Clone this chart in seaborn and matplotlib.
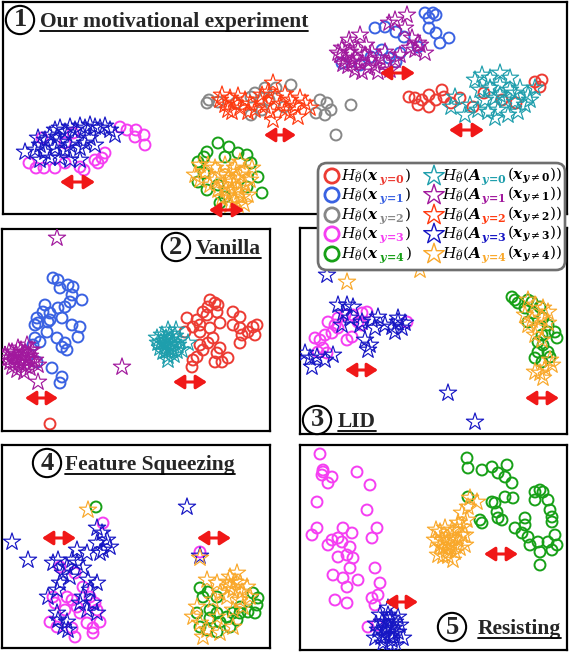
import matplotlib

matplotlib.use("Agg")

import matplotlib.pyplot as plt
import numpy as np
import pandas as pd
import seaborn as sns
from matplotlib.lines import Line2D
from matplotlib.patches import FancyBboxPatch

W, H = 570, 652

# ---- point positions (pixel coords, y down) ----
# panel 1: motivational experiment
P1_X1 = [(425, 13), (433, 13), (429, 18), (436, 15), (375, 28), (385, 27), (396, 32), (404, 37), (429, 28),
         (436, 33), (449, 38), (440, 43), (418, 47), (400, 53), (389, 58), (382, 50), (396, 62), (371, 57),
         (342, 63), (360, 65)]
P1_A1 = [(407, 15), (389, 23), (360, 35), (349, 40), (418, 43), (425, 53), (415, 50), (338, 53), (395, 20),
         (405, 28), (412, 38), (340, 55), (345, 60), (350, 52), (355, 58), (360, 63), (365, 55), (370, 60),
         (375, 66), (348, 66), (355, 70), (362, 72), (368, 68), (380, 58), (385, 63), (390, 70), (343, 64),
         (352, 62), (358, 50), (372, 52), (378, 72), (385, 52), (395, 60), (400, 55), (410, 48), (420, 45),
         (342, 48), (366, 45), (350, 45)]
P1_X2 = [(209, 100), (207, 103), (218, 102), (251, 97), (255, 93), (265, 88), (276, 88), (291, 85), (269, 100),
         (320, 100), (327, 103), (331, 110), (325, 115), (316, 113), (351, 105), (336, 135), (236, 103),
         (251, 115), (262, 110), (284, 107)]
P1_A2 = [(220, 100), (225, 105), (230, 98), (235, 103), (240, 108), (245, 100), (250, 104), (228, 110),
         (238, 96), (255, 110), (260, 100), (265, 106), (270, 112), (275, 98), (280, 104), (285, 110), (290, 100),
         (295, 106), (300, 98), (305, 103), (310, 108), (285, 94), (262, 95), (273, 83), (273, 120), (298, 117),
         (248, 112), (232, 112), (268, 92), (290, 113), (222, 95)]
P1_X0 = [(409, 97), (415, 98), (422, 100), (418, 105), (429, 107), (436, 100), (444, 97), (442, 90), (429, 95),
         (460, 98), (451, 103), (473, 107), (484, 93), (535, 82), (542, 80), (540, 87), (516, 103), (502, 100)]
P1_A0 = [(455, 97), (451, 107), (475, 80), (482, 75), (490, 78), (500, 73), (510, 78), (480, 90), (490, 88),
         (500, 85), (510, 90), (520, 88), (528, 95), (485, 100), (495, 98), (505, 100), (515, 102), (525, 105),
         (478, 110), (488, 112), (498, 110), (508, 115), (518, 112), (530, 100), (495, 118), (470, 105),
         (465, 115), (535, 88), (500, 95), (515, 93)]
P1_X3 = [(120, 127), (127, 130), (136, 130), (144, 135), (145, 145), (135, 137), (105, 153), (102, 158),
         (98, 163), (29, 163), (36, 168), (44, 168), (55, 168), (65, 163), (80, 167), (84, 170), (95, 160),
         (42, 138), (73, 133), (65, 143)]
P1_A3 = [(25, 152), (35, 150), (40, 145), (45, 140), (50, 135), (55, 130), (60, 128), (65, 132), (70, 127),
         (75, 130), (80, 126), (85, 128), (90, 125), (95, 127), (100, 128), (105, 126), (110, 130), (45, 152),
         (55, 148), (60, 142), (65, 150), (70, 145), (75, 140), (80, 148), (85, 143), (90, 138), (50, 158),
         (60, 158), (70, 160), (80, 160), (40, 160), (95, 145), (115, 135), (38, 138), (57, 137)]
P1_X4 = [(218, 143), (229, 147), (207, 152), (204, 157), (198, 162), (238, 153), (247, 155), (251, 163),
         (225, 157), (204, 173), (198, 182), (207, 190), (218, 185), (225, 197), (220, 203), (258, 177),
         (262, 193), (247, 187)]
P1_A4 = [(195, 175), (200, 180), (205, 172), (210, 185), (215, 168), (220, 175), (225, 165), (230, 172),
         (235, 168), (240, 175), (245, 170), (218, 190), (225, 185), (232, 182), (238, 188), (245, 185),
         (250, 180), (222, 198), (228, 195), (235, 200), (242, 197), (248, 195), (230, 205), (238, 205),
         (215, 180), (228, 178), (240, 162), (208, 165), (252, 168), (200, 165), (232, 190), (240, 192),
         (226, 190), (236, 178), (244, 204)]
P1_ARROWS = [(380, 415, 73), (264, 296, 135), (449, 484, 130), (60, 95, 182), (209, 244, 210)]

# panel 2: vanilla
P2_X1 = [(53, 278), (58, 280), (60, 288), (68, 285), (73, 287), (72, 295), (82, 300), (70, 302), (65, 307),
         (58, 308), (45, 305), (43, 312), (50, 313), (48, 322), (37, 318), (38, 323), (35, 325), (62, 318),
         (72, 325), (80, 327), (47, 332), (78, 337), (57, 338), (65, 343), (62, 347), (67, 350), (35, 338),
         (33, 345), (37, 362), (52, 368), (62, 377), (60, 383), (40, 342), (50, 320)]
P2_X0 = [(210, 300), (215, 303), (218, 305), (208, 307), (203, 312), (207, 315), (217, 312), (187, 318),
         (197, 320), (200, 325), (193, 327), (185, 332), (200, 332), (210, 328), (220, 323), (233, 312),
         (240, 317), (233, 325), (240, 328), (248, 332), (253, 327), (257, 325), (255, 335), (242, 335),
         (240, 343), (213, 338), (208, 343), (220, 348), (217, 353), (203, 350), (197, 357), (193, 360),
         (192, 367), (215, 362), (222, 362), (228, 358), (200, 345), (50, 424)]
P2_A0 = [(158, 343), (162, 335), (165, 345), (168, 330), (170, 340), (172, 350), (175, 336), (178, 345),
         (163, 352), (168, 356), (174, 355), (160, 348), (180, 340), (166, 338), (171, 345), (176, 330),
         (188, 343), (157, 338), (182, 350), (168, 360), (164, 341), (169, 349), (173, 342), (167, 344),
         (161, 342), (177, 351), (170, 334), (166, 351)]
P2_A1 = [(8, 358), (12, 352), (15, 362), (18, 348), (20, 358), (22, 365), (25, 352), (28, 360), (30, 368),
         (12, 367), (5, 355), (32, 350), (35, 360), (24, 372), (17, 370), (38, 365), (27, 345), (10, 362),
         (22, 355), (30, 356), (57, 238), (122, 367), (38, 382), (30, 350), (14, 357), (19, 363), (24, 359),
         (9, 352), (26, 366), (16, 354), (21, 350), (33, 362)]
P2_ARROWS = [(25, 58, 398), (173, 207, 382)]

# panel 3: LID
P3_X3 = [(315, 338), (320, 340), (325, 335), (332, 333), (335, 325), (328, 322), (338, 318), (345, 315),
         (353, 315), (362, 313), (367, 312), (358, 322), (347, 340), (352, 337), (362, 325), (323, 348),
         (327, 353), (318, 352), (338, 328), (407, 322)]
P3_A3 = [(327, 275), (338, 305), (347, 305), (353, 307), (343, 313), (350, 318), (362, 322), (372, 320),
         (378, 317), (385, 325), (392, 327), (398, 322), (405, 323), (402, 328), (395, 332), (375, 328),
         (365, 340), (370, 345), (368, 350), (305, 353), (310, 358), (312, 367), (317, 357), (325, 360),
         (333, 355), (360, 325), (342, 325), (448, 393), (475, 422), (398, 318)]
P3_X4 = [(512, 297), (515, 300), (518, 303), (528, 300), (532, 302), (540, 307), (525, 308), (533, 313),
         (543, 318), (548, 325), (555, 332), (557, 338), (548, 332), (542, 335), (538, 342), (543, 345),
         (538, 352), (548, 352), (550, 357), (535, 358), (542, 362), (528, 322)]
P3_A4 = [(347, 282), (528, 300), (535, 305), (543, 308), (548, 312), (525, 315), (532, 320), (542, 318),
         (548, 323), (538, 328), (528, 325), (535, 335), (542, 340), (552, 365), (545, 368), (540, 373),
         (535, 372), (543, 378), (550, 360), (420, 270)]
P3_ARROWS = [(345, 378, 370), (525, 559, 398)]

# panel 4: feature squeezing
P4_X3 = [(103, 523), (60, 567), (53, 597), (55, 603), (67, 597), (72, 600), (77, 607), (83, 587), (90, 597),
         (95, 603), (97, 610), (100, 622), (50, 622), (57, 627), (72, 628), (75, 637), (93, 633), (93, 628),
         (87, 623), (80, 613), (200, 552), (75, 573), (65, 610)]
P4_A3 = [(12, 542), (28, 560), (97, 528), (102, 533), (107, 540), (110, 547), (103, 550), (97, 543),
         (100, 553), (87, 553), (77, 550), (72, 560), (67, 567), (77, 563), (58, 560), (53, 563), (63, 573),
         (70, 577), (60, 583), (57, 590), (48, 597), (88, 580), (97, 583), (90, 590), (83, 597), (93, 603),
         (97, 613), (87, 610), (80, 603), (57, 613), (58, 620), (63, 627), (68, 630), (67, 622), (83, 568),
         (187, 507), (200, 556)]
P4_X4 = [(96, 507), (200, 588), (208, 592), (203, 597), (217, 597), (253, 593), (258, 598), (257, 605),
         (255, 613), (248, 612), (240, 607), (233, 613), (227, 617), (217, 613), (210, 610), (200, 627),
         (207, 630), (217, 632), (230, 627), (237, 620), (240, 613), (197, 613), (210, 618), (220, 622)]
P4_A4 = [(88, 510), (200, 558), (207, 580), (217, 583), (230, 577), (237, 573), (240, 583), (247, 587),
         (233, 590), (227, 597), (240, 600), (250, 597), (243, 607), (233, 610), (230, 587), (220, 593),
         (213, 600), (193, 617), (200, 623), (207, 630), (203, 637), (220, 633), (233, 627), (197, 607),
         (217, 617), (235, 582), (242, 592), (228, 582)]
P4_ARROWS = [(42, 76, 538), (197, 231, 538)]

# panel 5: resisting
P5_X3 = [(320, 454), (323, 470), (322, 475), (332, 477), (328, 483), (357, 472), (370, 485), (317, 502),
         (367, 510), (317, 528), (312, 535), (377, 528), (372, 538), (343, 528), (352, 533), (338, 538),
         (332, 540), (328, 545), (342, 542), (350, 547), (338, 557), (347, 555), (353, 558), (350, 568),
         (375, 568), (333, 575), (343, 578), (347, 587), (358, 580), (380, 583), (378, 595), (372, 598),
         (375, 605), (335, 600), (347, 603), (368, 627), (377, 625), (323, 472)]
P5_A3 = [(378, 630), (382, 622), (385, 635), (388, 615), (390, 628), (392, 640), (395, 622), (398, 632),
         (383, 643), (389, 645), (396, 645), (375, 638), (400, 625), (386, 628), (393, 634), (380, 615),
         (403, 638), (388, 608), (376, 624), (398, 617), (384, 630), (390, 636), (387, 622), (394, 628),
         (381, 637), (391, 618)]
P5_X4 = [(467, 458), (468, 468), (482, 470), (492, 467), (498, 473), (507, 465), (505, 477), (512, 483),
         (468, 497), (492, 502), (495, 503), (505, 497), (513, 498), (480, 520), (482, 523), (497, 512),
         (498, 518), (502, 520), (525, 518), (525, 525), (515, 528), (522, 533), (528, 537), (535, 492),
         (540, 490), (543, 492), (535, 500), (548, 500), (550, 510), (552, 517), (552, 522), (555, 535),
         (557, 545), (548, 542), (552, 550), (538, 542), (540, 552), (530, 545), (540, 565)]
P5_A4 = [(435, 540), (440, 532), (443, 548), (446, 538), (450, 545), (452, 530), (455, 552), (458, 540),
         (438, 555), (448, 556), (460, 548), (462, 535), (445, 528), (453, 560), (440, 545), (465, 545),
         (457, 530), (436, 530), (448, 550), (443, 556), (470, 498), (477, 502), (468, 507), (462, 513),
         (467, 520), (463, 527), (465, 535), (458, 523), (447, 543), (452, 538), (442, 540), (455, 546)]
P5_ARROWS = [(484, 518, 554), (385, 418, 602)]

TITLES = ["Our motivational experiment", "Vanilla", "LID", "Feature Squeezing", "Resisting"]

# ---- styling ----
CIRCLE_COLORS = ["#ec3b33", "#3a62e2", "#878787", "#f53ef2", "#17a017"]
STAR_COLORS = ["#1e9eac", "#a1189d", "#ff3a10", "#1616c4", "#f9a82a"]
ARROW_COLOR = "#f01818"

PANELS = [(3, 2, 567, 214), (2, 229, 270, 431), (300, 228, 567, 434), (2, 445, 270, 648), (300, 445, 567, 650)]
# circled number centre, text left x, text baseline, underline y
TITLE_POS = [(20, 19, 40, 27, 31), (176, 246, 196, 254, 258), (317, 419, 338, 427, 431),
             (47, 462, 65, 470, 474), (452, 626, 478, 634, 638)]

SERIES = [
    [("o", 1, P1_X1), ("o", 2, P1_X2), ("o", 0, P1_X0), ("o", 3, P1_X3), ("o", 4, P1_X4),
     ("*", 1, P1_A1), ("*", 2, P1_A2), ("*", 0, P1_A0), ("*", 3, P1_A3), ("*", 4, P1_A4)],
    [("o", 1, P2_X1), ("o", 0, P2_X0), ("*", 0, P2_A0), ("*", 1, P2_A1)],
    [("o", 3, P3_X3), ("o", 4, P3_X4), ("*", 3, P3_A3), ("*", 4, P3_A4)],
    [("o", 3, P4_X3), ("o", 4, P4_X4), ("*", 3, P4_A3), ("*", 4, P4_A4)],
    [("o", 3, P5_X3), ("o", 4, P5_X4), ("*", 3, P5_A3), ("*", 4, P5_A4)],
]
ARROWS = [P1_ARROWS, P2_ARROWS, P3_ARROWS, P4_ARROWS, P5_ARROWS]

sns.set_theme(style="white")
plt.rcParams["mathtext.fontset"] = "dejavuserif"
plt.rcParams["font.family"] = ["DejaVu Sans"]

fig = plt.figure(figsize=(W / 100, H / 100), dpi=100)
fig.patch.set_facecolor("white")
renderer = fig.canvas.get_renderer()


def pixel_axes(box, frame=True):
    x0, y0, x1, y1 = box
    ax = fig.add_axes([x0 / W, 1 - y1 / H, (x1 - x0) / W, (y1 - y0) / H])
    ax.set_xlim(x0, x1)
    ax.set_ylim(y1, y0)
    ax.set_xticks([])
    ax.set_yticks([])
    for sp in ax.spines.values():
        sp.set_visible(frame)
        sp.set_color("black")
        sp.set_linewidth(1.6)
    ax.set_facecolor("white")
    return ax


def draw_points(ax, pts, kind, cls):
    df = pd.DataFrame(pts, columns=["x", "y"])
    if kind == "o":
        c = CIRCLE_COLORS[cls]
        sns.scatterplot(data=df, x="x", y="y", ax=ax, marker="o", s=62, color=c,
                        facecolor="none", edgecolor=c, linewidth=1.4, zorder=2)
    else:
        c = STAR_COLORS[cls]
        sns.scatterplot(data=df, x="x", y="y", ax=ax, marker="*", s=170, color=c,
                        facecolor="none", edgecolor=c, linewidth=0.85, zorder=3)
    ax.set_xlabel("")
    ax.set_ylabel("")


for i, box in enumerate(PANELS):
    ax = pixel_axes(box)
    for kind, cls, pts in SERIES[i]:
        draw_points(ax, pts, kind, cls)
    for xa, xb, ya in ARROWS[i]:
        ax.annotate("", xy=(xb, ya), xytext=(xa, ya),
                    arrowprops=dict(arrowstyle="<|-|>,head_length=0.5,head_width=0.32",
                                    color=ARROW_COLOR, lw=2.2, shrinkA=0, shrinkB=0,
                                    mutation_scale=13), zorder=5)
    cx, cy, tx, ty, uy = TITLE_POS[i]
    ax.text(cx, cy + 1, str(i + 1), ha="center", va="center", fontsize=19, fontweight="bold",
            family="Liberation Serif", zorder=6,
            bbox=dict(boxstyle="circle,pad=0.1", fc="white", ec="black", lw=1.5))
    t = ax.text(tx, ty, TITLES[i], ha="left", va="baseline", fontsize=15.5, fontweight="bold",
                family="Liberation Serif", zorder=6)
    bb = t.get_window_extent(renderer)
    ax.add_line(Line2D([bb.x0, bb.x1], [uy, uy], color="black", lw=1.3, zorder=6))

# ---- legend ----
LEG_BOX = (318, 163, 565, 270)
ROW_Y = [176, 195, 215, 234, 254]
lax = pixel_axes((LEG_BOX[0] - 4, LEG_BOX[1] - 4, LEG_BOX[2] + 4, LEG_BOX[3] + 4), frame=False)
lax.patch.set_visible(False)
lax.add_patch(FancyBboxPatch((LEG_BOX[0], LEG_BOX[1]), LEG_BOX[2] - LEG_BOX[0], LEG_BOX[3] - LEG_BOX[1],
                             boxstyle="round,pad=0,rounding_size=9", fc="white", ec="#6f6f6f", lw=1.9))

for k in range(5):
    c = CIRCLE_COLORS[k]
    sns.scatterplot(x=[332], y=[ROW_Y[k]], ax=lax, marker="o", s=105, color=c,
                    facecolor="none", edgecolor=c, linewidth=2.0, zorder=3)
    c = STAR_COLORS[k]
    sns.scatterplot(x=[434], y=[ROW_Y[k]], ax=lax, marker="*", s=240, color=c,
                    facecolor="none", edgecolor=c, linewidth=1.0, zorder=3)
lax.set_xlabel("")
lax.set_ylabel("")


def write_pieces(x, y, pieces):
    for txt, color, size, dy in pieces:
        t = lax.text(x, y + dy, txt, color=color, fontsize=size, ha="left", va="baseline", zorder=4)
        x += t.get_window_extent(renderer).width


for k in range(5):
    base = ROW_Y[k] + 4
    write_pieces(341, base, [
        (r"$H_{\widehat{\theta}}(\mathbfit{x}$", "black", 11, 0),
        (r"$\mathbfit{y}\mathbf{\!=\!%d}$" % k, CIRCLE_COLORS[k], 8, 3),
        (r"$)$", "black", 11, 0),
    ])
    write_pieces(442, base, [
        (r"$H_{\widehat{\theta}}(\mathbfit{A}$", "black", 11, 0),
        (r"$\mathbfit{y}\mathbf{\!=\!%d}$" % k, STAR_COLORS[k], 8, 3),
        (r"$(\mathbfit{x}_{\mathbfit{y}\neq\mathbf{%d}}))$" % k, "black", 11, 0),
    ])

fig.savefig("out.png", dpi=100, facecolor="white")
